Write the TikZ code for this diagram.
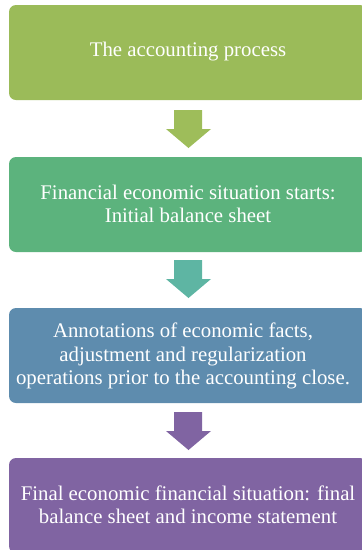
\documentclass[tikz,border=0pt]{standalone}
\usepackage{fontspec}
\setmainfont{Liberation Serif}
\definecolor{cA}{HTML}{9BBB59}
\definecolor{cB}{HTML}{5CB37D}
\definecolor{cC}{HTML}{5E8CAE}
\definecolor{cD}{HTML}{8064A2}
\definecolor{aA}{HTML}{9EBD5A}
\definecolor{aB}{HTML}{5EB5A3}
\definecolor{aC}{HTML}{8064A2}
\tikzset{
  stagebox/.style={fill=#1, draw=none, rounded corners=7pt},
  stagetext/.style={text=white, align=center, font=\fontsize{20.8}{23.5}\selectfont},
  blockarrow/.style={fill=#1, draw=none}
}
\begin{document}
\begin{tikzpicture}[x=1pt,y=-1pt]
\useasboundingbox (0,0) rectangle (362,550);
\clip (0,0) rectangle (362,550);
\fill[stagebox=cA] (9,5) rectangle (367,100);
\fill[stagebox=cB] (9,157) rectangle (367,252);
\fill[stagebox=cC] (9,308) rectangle (367,403);
\fill[stagebox=cD] (9,458) rectangle (367,553);
\node[stagetext] (t1) at (188,52) {The accounting process};
\node[stagetext] (t2) at (188,204) {Financial economic situation starts:\\Initial balance sheet};
\node[stagetext] (t3) at (183,356) {Annotations of economic facts,\\adjustment and regularization\\operations prior to the accounting close.};
\node[stagetext] (t4) at (188,505) {Final economic financial situation: final\\balance sheet and income statement};
\fill[blockarrow=aA] (174,110) -- (202,110) -- (202,129) -- (211,129) -- (188.5,148) -- (166,129) -- (174,129) -- cycle;
\fill[blockarrow=aB] (174,260) -- (202,260) -- (202,279) -- (211,279) -- (188.5,298) -- (166,279) -- (174,279) -- cycle;
\fill[blockarrow=aC] (174,412) -- (202,412) -- (202,431) -- (211,431) -- (188.5,450) -- (166,431) -- (174,431) -- cycle;
\end{tikzpicture}
\end{document}
